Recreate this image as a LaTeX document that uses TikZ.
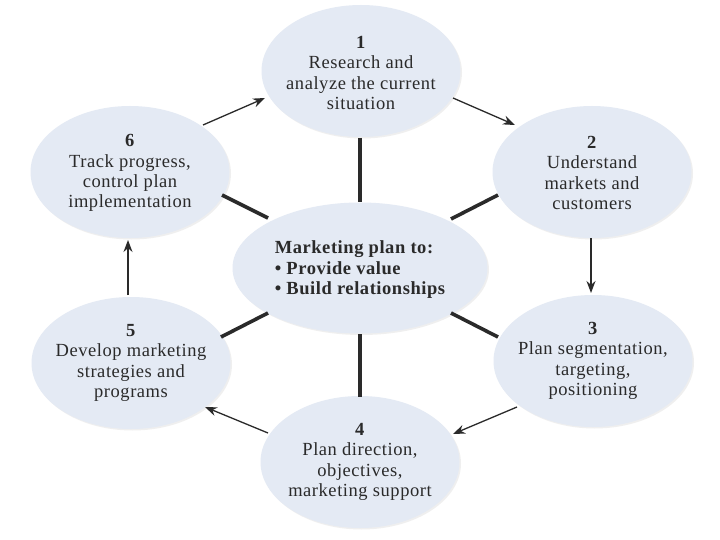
\documentclass[tikz,border=0pt]{standalone}
\usepackage{fontspec}
\setmainfont{Liberation Serif}[LetterSpace=3]
\usetikzlibrary{arrows.meta,shapes.geometric,shadows}
\definecolor{ellfill}{HTML}{E4EAF4}
\definecolor{ink}{HTML}{2A2A2A}
\tikzset{
  bubble/.style={ellipse, fill=ellfill, minimum width=199pt, minimum height=132pt, inner sep=0pt,
    drop shadow={opacity=0.12, shadow xshift=1.5pt, shadow yshift=-1.5pt}},
  bubtext/.style={align=center, inner sep=0pt, font=\fontsize{18.5}{20.3}\selectfont, text=ink},
  spoke/.style={line width=3.6pt, draw=ink},
  flow/.style={line width=1.3pt, draw=ink, -{Stealth[length=12pt,width=9pt]}},
}
\begin{document}
\begin{tikzpicture}[x=1pt,y=-1pt]
\useasboundingbox[fill=white] (0,0) rectangle (720,540);
\node[bubble] (n1) at (361,71) {};
\node[bubble] (n2) at (592,172) {};
\node[bubble] (n3) at (593,361) {};
\node[bubble] (n4) at (360,462) {};
\node[bubble] (n5) at (131,363) {};
\node[bubble] (n6) at (130,172) {};
\node[bubble, minimum width=255pt, minimum height=131pt] (c) at (360,268) {};
\node[bubtext] (t1) at ([yshift=-2pt]n1.center) {\textbf{1}\\Research and\\analyze the current\\situation};
\node[bubtext] (t2) at ([yshift=-1pt]n2.center) {\textbf{2}\\Understand\\markets and\\customers};
\node[bubtext] (t3) at (n3.center) {\textbf{3}\\Plan segmentation,\\targeting,\\positioning};
\node[bubtext] (t4) at (n4.center) {\textbf{4}\\Plan direction,\\objectives,\\marketing support};
\node[bubtext] (t5) at (n5.center) {\textbf{5}\\Develop marketing\\strategies and\\programs};
\node[bubtext] (t6) at ([yshift=-1pt]n6.center) {\textbf{6}\\Track progress,\\control plan\\implementation};
\node[bubtext, align=left, font=\fontsize{18.5}{20.5}\selectfont\bfseries] (tc) at ([xshift=0pt,yshift=-2pt]c.center)
  {Marketing plan to:\\\textbullet{} Provide value\\\textbullet{} Build relationships};
% spokes
\coordinate (s1a) at (360,138); \coordinate (s1b) at (360,202);
\coordinate (s4a) at (360,334); \coordinate (s4b) at (360,397);
\coordinate (s2a) at (451,219); \coordinate (s2b) at (498,195);
\coordinate (s3a) at (451,313); \coordinate (s3b) at (498,337);
\coordinate (s5a) at (268,313); \coordinate (s5b) at (221,337);
\coordinate (s6a) at (268,218); \coordinate (s6b) at (222,195);
\draw[spoke] (s1a) -- (s1b);
\draw[spoke] (s4a) -- (s4b);
\draw[spoke] (s2a) -- (s2b);
\draw[spoke] (s3a) -- (s3b);
\draw[spoke] (s5a) -- (s5b);
\draw[spoke] (s6a) -- (s6b);
% flow arrows
\coordinate (a61) at (203,125); \coordinate (b61) at (265,98);
\coordinate (a12) at (453,98); \coordinate (b12) at (515,125);
\coordinate (a23) at (591,238); \coordinate (b23) at (591,293);
\coordinate (a34) at (517,407); \coordinate (b34) at (453,434);
\coordinate (a45) at (268,433); \coordinate (b45) at (205,407);
\coordinate (a56) at (128,295); \coordinate (b56) at (128,240);
\draw[flow] (a61) -- (b61);
\draw[flow] (a12) -- (b12);
\draw[flow] (a23) -- (b23);
\draw[flow] (a34) -- (b34);
\draw[flow] (a45) -- (b45);
\draw[flow] (a56) -- (b56);
\end{tikzpicture}
\end{document}
